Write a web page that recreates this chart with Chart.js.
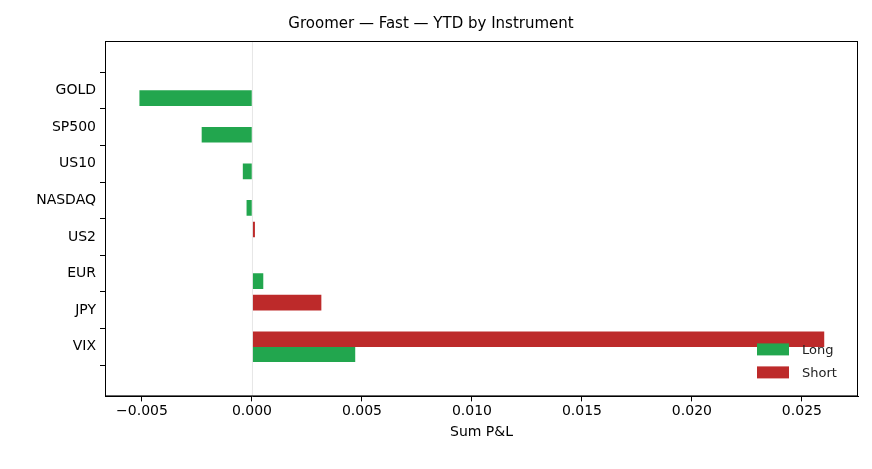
<!DOCTYPE html>
<html><head><meta charset="utf-8">
<script src="https://cdn.jsdelivr.net/npm/chart.js@4"></script>
<style>html,body{margin:0;padding:0;background:#fff}#wrap{width:872px;height:469px}</style>
</head><body><div id="wrap"><canvas id="c"></canvas></div>
<script>
const categories = ["GOLD","SP500","US10","NASDAQ","US2","EUR","JPY","VIX"];
const longValues = [-0.0051,-0.00227,-0.0004,-0.00023,null,0.0005,null,0.00468];
const shortValues = [null,null,null,null,0.00012,null,0.00314,0.026];
const xTicks = [-0.005,0,0.005,0.010,0.015,0.020,0.025];
const GREEN = "#22a64e", RED = "#bd2a2a";
const font = {family:"DejaVu Sans", size:14};
const toPoints = arr => arr.map((v,i)=>({x:v,y:i})).filter(p=>p.x!==null);

const framePlugin = {
  id:"frame",
  afterDraw(chart){
    const {ctx, chartArea:a, scales} = chart;
    ctx.save();
    const x0 = scales.x.getPixelForValue(0);
    ctx.strokeStyle="#e6e6e6"; ctx.lineWidth=1;
    ctx.beginPath(); ctx.moveTo(x0+0.5,a.top); ctx.lineTo(x0+0.5,a.bottom); ctx.stroke();
    ctx.strokeStyle="#000"; ctx.lineWidth=1;
    ctx.strokeRect(a.left+0.5,a.top+0.5,a.right-a.left-1,a.bottom-a.top-1);
    const items=[["Long",GREEN],["Short",RED]];
    ctx.font="13px 'DejaVu Sans'"; ctx.textBaseline="middle";
    items.forEach((it,i)=>{
      const y=a.bottom-47+i*23;
      ctx.fillStyle=it[1]; ctx.fillRect(a.right-101,y-6,32,12);
      ctx.fillStyle="#222"; ctx.fillText(it[0],a.right-56,y+1);
    });
    ctx.restore();
  }
};

new Chart(document.getElementById("c"),{
  type:"bar",
  data:{datasets:[
    {label:"Short",data:toPoints(shortValues),backgroundColor:RED,barThickness:15},
    {label:"Long",data:toPoints(longValues),backgroundColor:GREEN,barThickness:15}
  ]},
  options:{
    indexAxis:"y",responsive:true,maintainAspectRatio:false,animation:false,
    layout:{padding:{left:4,right:14,top:5,bottom:24}},
    plugins:{legend:{display:false},tooltip:{enabled:false},
      title:{display:true,text:"Groomer — Fast — YTD by Instrument",color:"#000",font:{family:"DejaVu Sans",size:15,weight:"normal"},padding:{top:10,bottom:8}}},
    scales:{
      x:{type:"linear",min:-0.00668,max:0.02755,
        afterBuildTicks(s){s.ticks=xTicks.map(v=>({value:v}));},
        ticks:{color:"#000",font,callback:v=>(v<0?"\u2212":"")+Math.abs(v).toFixed(3),maxRotation:0,padding:2},
        grid:{drawOnChartArea:false,color:"#000",tickLength:5},border:{color:"#000"},
        title:{display:true,text:"Sum P&L",color:"#000",font,padding:{top:2}}},
      y:{type:"linear",min:-0.75,max:7.75,reverse:true,
        afterBuildTicks(s){s.ticks=categories.map((c,i)=>({value:i}));},
        afterFit(s){s.width=101;},
        ticks:{color:"#000",font,padding:4,callback:v=>categories[v]},
        grid:{drawOnChartArea:false,color:"#000",tickLength:5},border:{color:"#000"}}
    }
  },
  plugins:[framePlugin]
});
</script></body></html>
